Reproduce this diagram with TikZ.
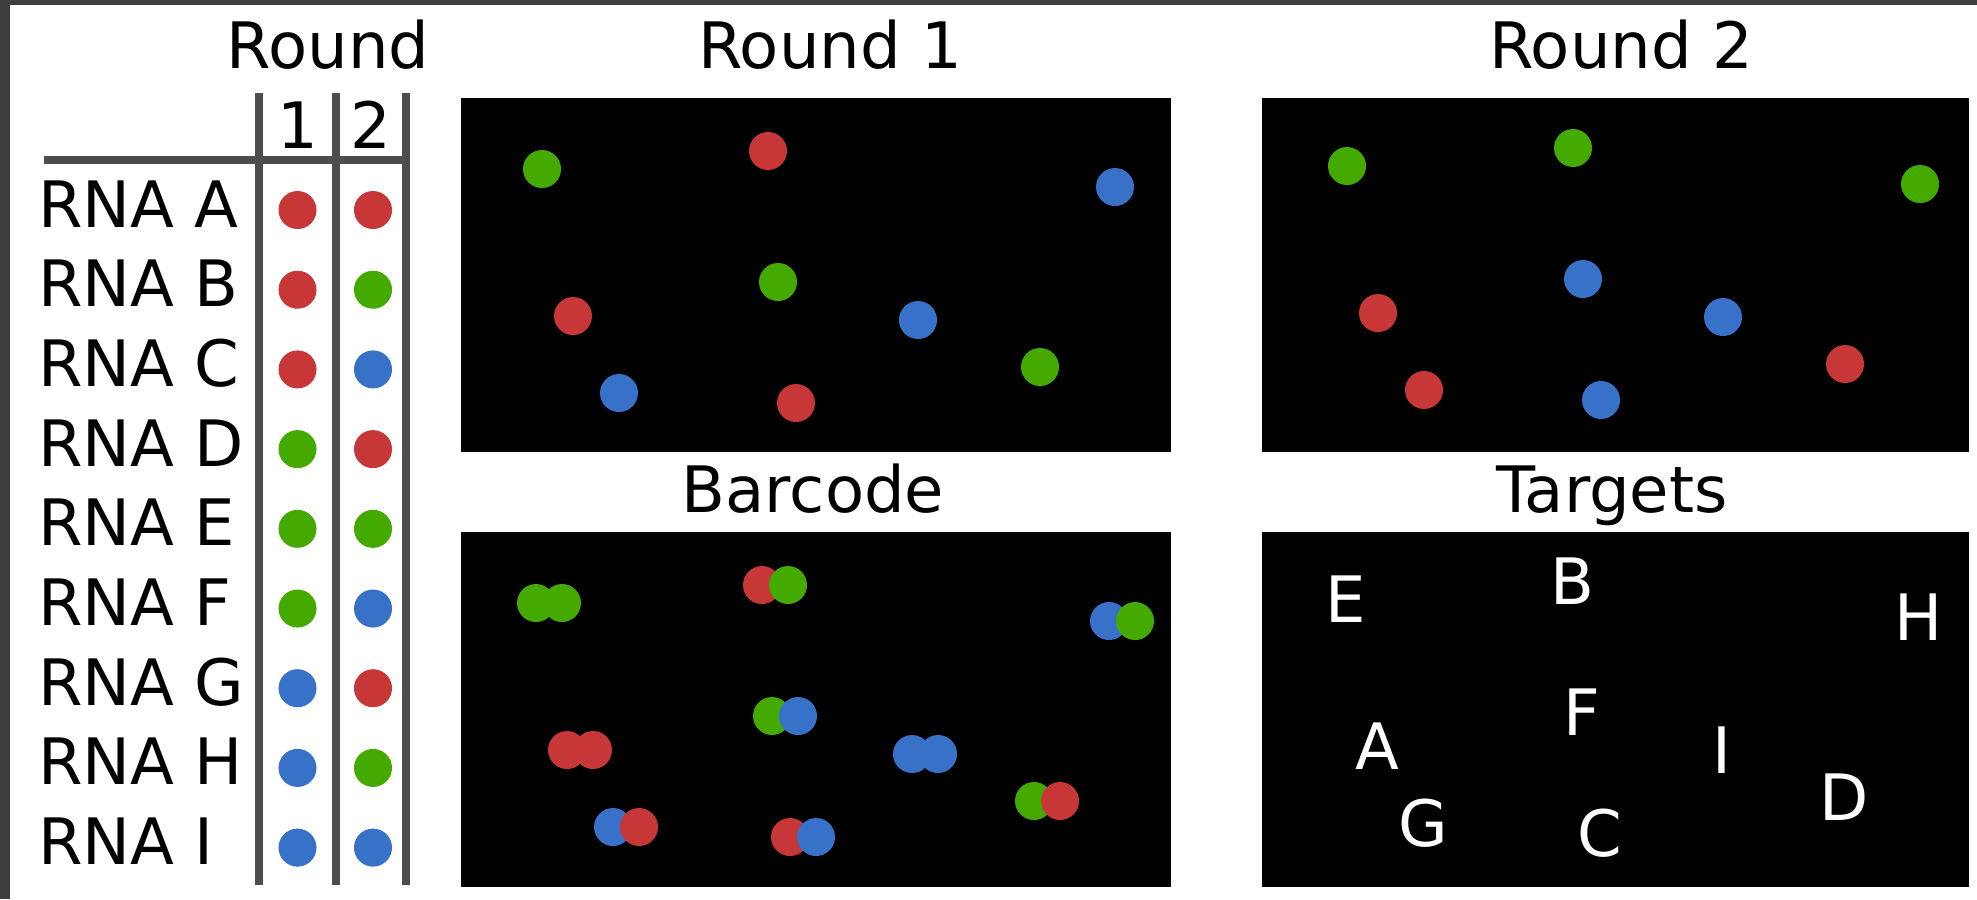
\documentclass[tikz,border=0pt]{standalone}
\usepackage{fontspec}
\setmainfont{DejaVu Sans}
\usetikzlibrary{positioning}
\definecolor{spotred}{HTML}{C83737}
\definecolor{spotgreen}{HTML}{44AA00}
\definecolor{spotblue}{HTML}{3771C8}
\definecolor{gridgray}{HTML}{4D4D4D}
\definecolor{framegray}{RGB}{62,62,62}
\newcommand{\figfont}{\fontsize{18.2pt}{21pt}\selectfont}
\tikzset{
    % Panels
    panel/.style={
        rectangle,
        fill=black,
        inner sep=0pt,
        minimum height=3.54cm
    },
    % Texts
    title/.style={
        anchor=base,
        inner sep=0pt,
        font=\figfont
    },
    rnalabel/.style={
        anchor=base west,
        inner sep=0pt,
        font=\figfont
    },
    target/.style={
        inner sep=0pt,
        text=white,
        font=\figfont
    },
    % Dots
    spot/.style={
        circle,
        draw=none,
        inner sep=0pt,
        minimum size=0.38cm
    },
    % Table
    tableline/.style={
        line width=0.08cm,
        draw=gridgray
    }
}

\begin{document}
\begin{tikzpicture}[x=0.01cm, y=-0.01cm]

    \useasboundingbox (0,0) rectangle (1977,899);
    \fill[white] (0,0) rectangle (1977,899);
    \fill[framegray] (0,0) rectangle (1977,5);
    \fill[framegray] (0,0) rectangle (10,899);

    % Table header
    \node[title] (hdr_round) at (328,68) {Round};
    \node[title] (hdr_one) at (298,148) {1};
    \node[title] (hdr_two) at (371,148) {2};

    % Table lines
    \draw[tableline] (44,160) -- (410,160);
    \draw[tableline] (258.5,93) -- (258.5,885);
    \draw[tableline] (336,93) -- (336,885);
    \draw[tableline] (406,93) -- (406,885);

    % Table rows
    \foreach \l/\ca/\cb [count=\i from 0] in {
        A/spotred/spotred, B/spotred/spotgreen, C/spotred/spotblue,
        D/spotgreen/spotred, E/spotgreen/spotgreen, F/spotgreen/spotblue,
        G/spotblue/spotred, H/spotblue/spotgreen, I/spotblue/spotblue} {
        \node[rnalabel] (rna_\l) at (37.5,227+79.7*\i) {RNA \l};
        \node[spot, fill=\ca] (code1_\l) at (297.5,210+79.7*\i) {};
        \node[spot, fill=\cb] (code2_\l) at (373,210+79.7*\i) {};
    }

    % Panels
    \node[panel, minimum width=7.10cm] (round1) at (816,275) {};
    \node[panel, minimum width=7.07cm] (round2) at (1615.5,275) {};
    \node[panel, minimum width=7.10cm, minimum height=3.55cm] (barcode) at (816,709.5) {};
    \node[panel, minimum width=7.07cm, minimum height=3.55cm] (targets) at (1615.5,709.5) {};

    \node[title] (round1_title) at (830,68) {Round 1};
    \node[title] (round2_title) at (1621,68) {Round 2};
    \node[title] (barcode_title) at (813,512) {Barcode};
    \node[title] (targets_title) at (1612,512) {Targets};

    % Spots
    \foreach \l/\sx/\sy/\ca/\cb in {
        E/81/71/spotgreen/spotgreen, B/307/53/spotred/spotgreen,
        H/654/89/spotblue/spotgreen, F/317/184/spotgreen/spotblue,
        A/112/218/spotred/spotred, I/457/222/spotblue/spotblue,
        D/579/269/spotgreen/spotred, G/158/295/spotblue/spotred,
        C/335/305/spotred/spotblue} {
        \node[spot, fill=\ca] (r1_\l) at (461+\sx,98+\sy) {};
        \node[spot, fill=\cb] (r2_\l) at (1266+\sx,95+\sy) {};
        \node[spot, fill=\ca] (bc1_\l) at (455+\sx,532+\sy) {};
        \node[spot, fill=\cb] (bc2_\l) at (481+\sx,532+\sy) {};
        \node[target] (tgt_\l) at (1265+\sx,528+\sy) {\l};
    }

\end{tikzpicture}
\end{document}
